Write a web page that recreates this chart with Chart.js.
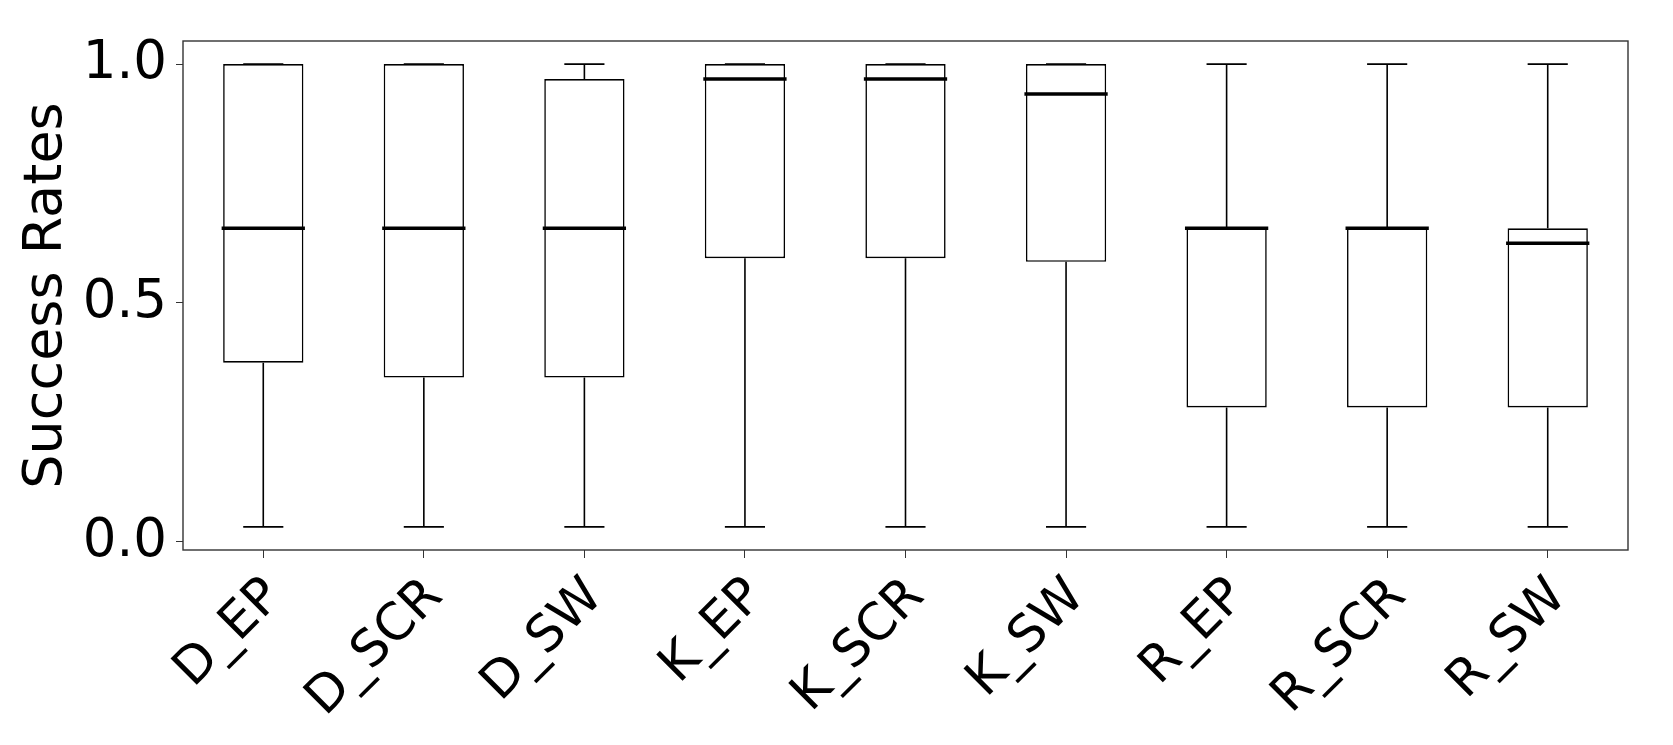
<!DOCTYPE html>
<html>
<head>
<meta charset="utf-8">
<script src="https://cdn.jsdelivr.net/npm/chart.js@4/dist/chart.umd.min.js"></script>
<style>
  body { margin: 0; background: #fff; }
  #chart { display: block; }
</style>
</head>
<body>
<canvas id="chart" width="1673" height="745"></canvas>
<script>
const labels = ['D_EP', 'D_SCR', 'D_SW', 'K_EP', 'K_SCR', 'K_SW', 'R_EP', 'R_SCR', 'R_SW'];
const whiskerLow = [0.03125, 0.03125, 0.03125, 0.03125, 0.03125, 0.03125, 0.03125, 0.03125, 0.03125];
const q1 = [0.375, 0.34375, 0.34375, 0.59375, 0.59375, 0.586, 0.28125, 0.28125, 0.28125];
const median = [0.65625, 0.65625, 0.65625, 0.96875, 0.96875, 0.9375, 0.65625, 0.65625, 0.625];
const q3 = [1.0, 1.0, 0.96875, 1.0, 1.0, 1.0, 0.65625, 0.65625, 0.65625];
const whiskerHigh = [1.0, 1.0, 1.0, 1.0, 1.0, 1.0, 1.0, 1.0, 1.0];
const yTicks = [0, 0.5, 1.0];

const fontFamily = '"DejaVu Sans", sans-serif';

// whiskers, caps, medians and the full frame
const boxExtras = {
  id: 'boxExtras',
  afterDatasetsDraw(chart) {
    const ctx = chart.ctx;
    const y = chart.scales.y;
    const meta = chart.getDatasetMeta(0);
    ctx.save();
    ctx.strokeStyle = '#000';
    meta.data.forEach((bar, i) => {
      const x = bar.x;
      const w = bar.width;
      const cap = w / 2;
      ctx.lineWidth = 1.6;
      ctx.beginPath();
      ctx.moveTo(x, y.getPixelForValue(q3[i]));
      ctx.lineTo(x, y.getPixelForValue(whiskerHigh[i]));
      ctx.moveTo(x, y.getPixelForValue(q1[i]));
      ctx.lineTo(x, y.getPixelForValue(whiskerLow[i]));
      ctx.moveTo(x - cap / 2, y.getPixelForValue(whiskerHigh[i]));
      ctx.lineTo(x + cap / 2, y.getPixelForValue(whiskerHigh[i]));
      ctx.moveTo(x - cap / 2, y.getPixelForValue(whiskerLow[i]));
      ctx.lineTo(x + cap / 2, y.getPixelForValue(whiskerLow[i]));
      ctx.stroke();
      ctx.lineWidth = 3.4;
      ctx.beginPath();
      const my = y.getPixelForValue(median[i]);
      ctx.moveTo(x - w / 2 - 1.5, my);
      ctx.lineTo(x + w / 2 + 1.5, my);
      ctx.stroke();
    });
    const a = chart.chartArea;
    ctx.strokeStyle = '#333';
    ctx.lineWidth = 1.4;
    ctx.strokeRect(a.left, a.top, a.right - a.left, a.bottom - a.top);
    ctx.restore();
  }
};

new Chart(document.getElementById('chart'), {
  type: 'bar',
  data: {
    labels,
    datasets: [{
      data: labels.map((_, i) => [q1[i], q3[i]]),
      backgroundColor: '#fff',
      borderColor: '#000',
      borderWidth: 1.6,
      borderSkipped: false,
      barPercentage: 0.5,
      categoryPercentage: 1.0,
    }],
  },
  options: {
    responsive: false,
    animation: false,
    events: [],
    layout: { padding: { top: 41, right: 45, left: 0, bottom: 0 } },
    plugins: {
      legend: { display: false },
      tooltip: { enabled: false },
    },
    scales: {
      x: {
        offset: true,
        grid: { display: true, offset: false, drawOnChartArea: false, drawTicks: true, tickLength: 8, color: '#333' },
        border: { display: false },
        ticks: {
          color: '#000',
          font: { family: fontFamily, size: 51 },
          minRotation: 45,
          maxRotation: 45,
          padding: 9,
          labelOffset: 11,
        },
        afterFit(scale) { scale.height = 745 - 550; },
      },
      y: {
        min: -0.0172,
        max: 1.0484,
        grid: { display: true, drawOnChartArea: false, drawTicks: true, tickLength: 7, color: '#333' },
        border: { display: false },
        afterBuildTicks(scale) { scale.ticks = yTicks.map(v => ({ value: v })); },
        ticks: {
          color: '#000',
          font: { family: fontFamily, size: 53 },
          padding: 9,
          callback: v => Number(v).toFixed(1),
        },
        title: {
          display: true,
          text: 'Success Rates',
          color: '#000',
          font: { family: fontFamily, size: 54 },
          padding: { top: 15, bottom: 0 },
        },
        afterFit(scale) { scale.width = 183; },
      },
    },
  },
  plugins: [boxExtras],
});
</script>
</body>
</html>
